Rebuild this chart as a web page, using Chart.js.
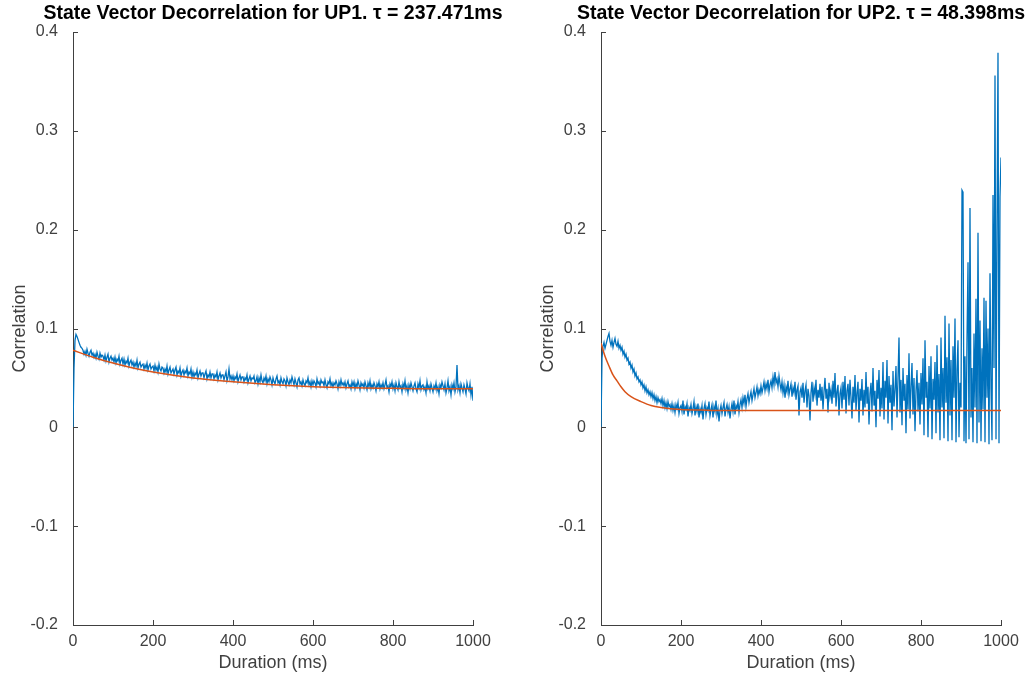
<!DOCTYPE html>
<html>
<head>
<meta charset="utf-8">
<script src="https://cdn.jsdelivr.net/npm/chart.js@4"></script>
<style>
  html, body { margin: 0; padding: 0; background: #fff; overflow: hidden; width: 1035px; height: 679px; }
  canvas { position: absolute; top: 0; }
  #c1 { left: 0px; }
  #c2 { left: 528px; }
</style>
</head>
<body>
<canvas id="c1" width="546" height="679"></canvas>
<canvas id="c2" width="546" height="679"></canvas>
<script>
// ---------- Data ----------
const xTickValues = [0, 200, 400, 600, 800, 1000];
const yTickValues = [-0.2, -0.1, 0, 0.1, 0.2, 0.3, 0.4];

const title1 = 'State Vector Decorrelation for UP1. \u03C4 = 237.471ms';
const title2 = 'State Vector Decorrelation for UP2. \u03C4 = 48.398ms';

// UP1 correlation, one value every 2.5 ms from 0 to 1000 ms
const up1Corr = [
  0, .060, .088, .094, .092, .089, .086, .083, .081, .080,
  .078, .074, .077, .073, .079, .075, .072, .076, .078, .073,
  .075, .071, .074, .070, .076, .072, .069, .075, .071, .073,
  .072, .068, .073, .067, .071, .074, .066, .070, .072, .068,
  .070, .066, .071, .065, .069, .067, .072, .064, .068, .070,
  .064, .069, .063, .067, .065, .070, .062, .066, .068, .063,
  .066, .061, .065, .062, .068, .060, .064, .066, .061, .063,
  .064, .059, .063, .060, .065, .058, .062, .064, .059, .061,
  .062, .057, .063, .058, .061, .056, .064, .059, .057, .061,
  .060, .055, .059, .056, .062, .054, .058, .061, .055, .057,
  .059, .054, .058, .061, .053, .057, .055, .060, .052, .056,
  .058, .053, .057, .055, .060, .052, .056, .054, .059, .051,
  .056, .051, .055, .053, .058, .050, .054, .057, .052, .055,
  .055, .050, .054, .057, .049, .053, .051, .056, .050, .054,
  .054, .049, .053, .051, .056, .048, .052, .055, .050, .053,
  .053, .048, .052, .056, .047, .051, .059, .049, .052, .048,
  .052, .047, .051, .049, .054, .046, .050, .053, .048, .051,
  .051, .046, .050, .048, .053, .045, .049, .052, .047, .050,
  .049, .052, .045, .047, .051, .044, .050, .046, .053, .047,
  .045, .050, .047, .052, .044, .049, .046, .051, .048, .043,
  .050, .046, .044, .049, .052, .045, .047, .043, .050, .046,
  .044, .049, .047, .042, .050, .046, .043, .048, .045, .051,
  .047, .043, .049, .045, .041, .048, .050, .044, .046, .042,
  .048, .044, .042, .047, .045, .050, .043, .046, .041, .047,
  .043, .047, .045, .041, .049, .044, .046, .042, .048, .045,
  .046, .042, .048, .043, .040, .046, .044, .049, .042, .045,
  .041, .045, .043, .047, .044, .039, .046, .042, .048, .043,
  .045, .042, .046, .040, .044, .047, .041, .043, .039, .046,
  .042, .046, .039, .044, .041, .047, .043, .038, .045, .042,
  .044, .040, .046, .042, .038, .045, .041, .047, .039, .043,
  .040, .045, .042, .037, .044, .041, .046, .039, .043, .040,
  .045, .039, .043, .048, .040, .042, .036, .044, .041, .046,
  .039, .043, .037, .045, .041, .038, .046, .040, .042, .036,
  .044, .040, .047, .038, .042, .035, .043, .039, .045, .041,
  .037, .042, .045, .039, .036, .044, .040, .047, .038, .042,
  .043, .038, .041, .035, .046, .039, .042, .037, .044, .040,
  .036, .042, .039, .045, .037, .041, .034, .043, .040, .046,
  .042, .038, .044, .035, .040, .047, .037, .041, .033, .043,
  .039, .045, .036, .041, .063, .038, .042, .035, .044, .040,
  .036, .043, .039, .034, .045, .040, .037, .044, .033, .041,
  .027
];

// UP1 exponential fit, read at these times
const up1FitTime = [0, 50, 100, 150, 200, 300, 400, 500, 600, 700, 800, 900, 1000];
const up1Fit     = [0.078, 0.071, 0.065, 0.060, 0.056, 0.050, 0.046, 0.043, 0.041, 0.040, 0.0395, 0.039, 0.039];

// UP2 correlation, one value every 2.5 ms from 0 to 1000 ms
const up2Corr = [
  0, .070, .082, .086, .080, .084, .088, .092, .095, .087,
  .083, .088, .081, .086, .090, .084, .082, .087, .080, .083,
  .078, .081, .074, .077, .071, .074, .068, .070, .064, .066,
  .060, .063, .056, .059, .052, .055, .049, .051, .046, .048,
  .043, .046, .040, .043, .037, .041, .035, .038, .033, .036,
  .031, .035, .029, .033, .027, .031, .025, .030, .026, .028,
  .024, .029, .022, .027, .020, .025, .019, .026, .021, .023,
  .018, .024, .017, .022, .015, .023, .019, .025, .014, .020,
  .022, .016, .027, .013, .021, .018, .024, .011, .020, .017,
  .023, .014, .019, .026, .012, .021, .016, .024, .010, .019,
  .015, .022, .008, .019, .024, .013, .020, .017, .026, .012,
  .018, .023, .010, .021, .016, .027, .013, .019, .006, .017,
  .022, .014, .020, .025, .011, .019, .023, .015, .021, .009,
  .018, .024, .016, .027, .013, .022, .019, .026, .015, .023,
  .028, .020, .030, .024, .033, .021, .029, .034, .025, .031,
  .036, .027, .033, .039, .030, .035, .041, .032, .038, .034,
  .042, .035, .040, .046, .037, .044, .039, .048, .036, .043,
  .047, .040, .051, .043, .056, .045, .049, .041, .052, .044,
  .038, .046, .035, .043, .030, .041, .036, .047, .033, .039,
  .044, .031, .040, .035, .046, .028, .038, .042, .012, .036,
  .040, .030, .045, .025, .037, .043, .020, .039, .032, .007,
  .035, .046, .026, .040, .033, .048, .022, .038, .030, .044,
  .027, .041, .018, .036, .050, .029, .039, .015, .045, .031,
  .038, .024, .047, .030, .055, .021, .036, .043, .012, .034,
  .040, .019, .046, .028, .052, .014, .037, .044, .022, .048,
  .030, .009, .041, .025, .053, .017, .035, .046, .005, .039,
  .027, .049, .012, .038, .020, .056, .024, .041, .003, .034,
  .045, .016, .060, .022, .037, .000, .048, .029, .058, .011,
  .040, .019, .066, .008, .047, .030, .068, .004, .052, .025,
  .043, -.003, .057, .021, .038, .062, .010, .050, .091, .015,
  .048, .002, .060, .027, .044, -.006, .053, .018, .075, .009,
  .041, .065, .013, .050, -.004, .037, .058, .016, .045, .003,
  .055, .023, .070, -.008, .088, .030, .046, -.010, .062, .019,
  .072, -.012, .049, .028, .066, -.006, .083, .015, .054, -.013,
  .091, .020, .060, -.011, .113, .025, .071, -.014, .105, .012,
  .068, -.013, .082, .030, .110, -.015, .058, .088, -.010, .045,
  .020, .240, .238, -.014, .072, -.016, .090, .167, -.012, .222,
  .010, .060, -.015, .095, .020, .130, -.016, .197, .005, .108,
  -.014, .080, .018, .131, -.015, .128, .030, .100, -.017, .156,
  .040, -.013, .235, .060, .356, -.012, .202, .379, -.016, .233,
  .273
];

// UP2 exponential fit, read at these times
const up2FitTime = [0, 10, 20, 30, 40, 50, 60, 75, 100, 125, 150, 200, 250, 300, 400, 600, 800, 1000];
const up2Fit     = [0.085, 0.072, 0.062, 0.053, 0.047, 0.041, 0.036, 0.031, 0.026, 0.022, 0.020, 0.018, 0.0175, 0.017, 0.017, 0.017, 0.017, 0.017];

// ---------- Time grids (one sample every 2.5 ms) ----------
const up1Time = up1Corr.map((_, i) => i * 2.5);
const up2Time = up2Corr.map((_, i) => i * 2.5);

const toXY = (xs, ys) => xs.map((x, i) => ({x: x, y: ys[i]}));

const FONT = "'Liberation Sans', Arial, Helvetica, sans-serif";
const AXIS_COLOR = '#404040';
const BLUE = '#0072BD';
const ORANGE = '#D95319';

// Inward tick marks, MATLAB style
const inwardTicks = {
  id: 'inwardTicks',
  afterDatasetsDraw(chart) {
    const ctx = chart.ctx;
    const xs = chart.scales.x, ys = chart.scales.y;
    const len = 5;
    ctx.save();
    ctx.strokeStyle = AXIS_COLOR;
    ctx.lineWidth = 1;
    ctx.beginPath();
    xTickValues.forEach(v => {
      const px = Math.round(xs.getPixelForValue(v)) + 0.5;
      ctx.moveTo(px, ys.bottom);
      ctx.lineTo(px, ys.bottom - len);
    });
    yTickValues.forEach(v => {
      const py = Math.round(ys.getPixelForValue(v)) + 0.5;
      ctx.moveTo(xs.left, py);
      ctx.lineTo(xs.left + len, py);
    });
    ctx.stroke();
    ctx.restore();
  }
};

function makeChart(id, title, data, fit) {
  return new Chart(document.getElementById(id), {
    type: 'line',
    data: {
      datasets: [
        {
          data: data,
          xAxisID: 'x', yAxisID: 'y',
          borderColor: BLUE,
          borderWidth: 1.3,
          pointRadius: 0,
          tension: 0,
          order: 2
        },
        {
          data: fit,
          xAxisID: 'x', yAxisID: 'y',
          borderColor: ORANGE,
          borderWidth: 1.5,
          pointRadius: 0,
          cubicInterpolationMode: 'monotone',
          order: 1
        }
      ]
    },
    options: {
      responsive: false,
      animation: false,
      devicePixelRatio: 1,
      parsing: false,
      normalized: true,
      layout: { padding: 0 },
      plugins: {
        legend: { display: false },
        tooltip: { enabled: false },
        title: {
          display: true,
          text: title,
          color: '#000',
          font: { family: FONT, size: 19.5, weight: 'bold', lineHeight: 1.2 },
          padding: { top: 2, bottom: 6.6 }
        }
      },
      scales: {
        x: {
          type: 'linear',
          min: 0, max: 1000,
          afterFit: (s) => { s.height = 54; },
          afterBuildTicks: (s) => { s.ticks = xTickValues.map(v => ({value: v})); },
          grid: { display: true, drawOnChartArea: false, drawTicks: false },
          border: { display: true, color: AXIS_COLOR, width: 1 },
          ticks: {
            color: AXIS_COLOR,
            padding: 7,
            maxRotation: 0,
            font: { family: FONT, size: 16 },
            callback: (v) => String(v)
          },
          title: {
            display: true,
            text: 'Duration (ms)',
            color: AXIS_COLOR,
            font: { family: FONT, size: 18 },
            padding: { top: 0, bottom: 5 }
          }
        },
        y: {
          type: 'linear',
          position: 'left',
          min: -0.2, max: 0.4,
          afterFit: (s) => { s.width = 73; },
          afterBuildTicks: (s) => { s.ticks = yTickValues.map(v => ({value: v})); },
          grid: { display: true, drawOnChartArea: false, drawTicks: false },
          border: { display: true, color: AXIS_COLOR, width: 1 },
          ticks: {
            color: AXIS_COLOR,
            padding: 15,
            font: { family: FONT, size: 16 },
            callback: (v) => String(Math.round(v * 10) / 10)
          },
          title: {
            display: true,
            text: 'Correlation',
            color: AXIS_COLOR,
            font: { family: FONT, size: 18 },
            padding: { top: 9, bottom: 0 }
          }
        },
        // empty spacer on the right so the plot area matches the reference
        spacer: {
          type: 'linear',
          axis: 'y',
          position: 'right',
          min: 0, max: 1,
          afterFit: (s) => { s.width = 73; },
          grid: { display: false, drawTicks: false },
          border: { display: false },
          ticks: { display: false }
        }
      }
    },
    plugins: [inwardTicks]
  });
}

makeChart('c1', title1, toXY(up1Time, up1Corr), toXY(up1FitTime, up1Fit));
makeChart('c2', title2, toXY(up2Time, up2Corr), toXY(up2FitTime, up2Fit));
</script>
</body>
</html>
